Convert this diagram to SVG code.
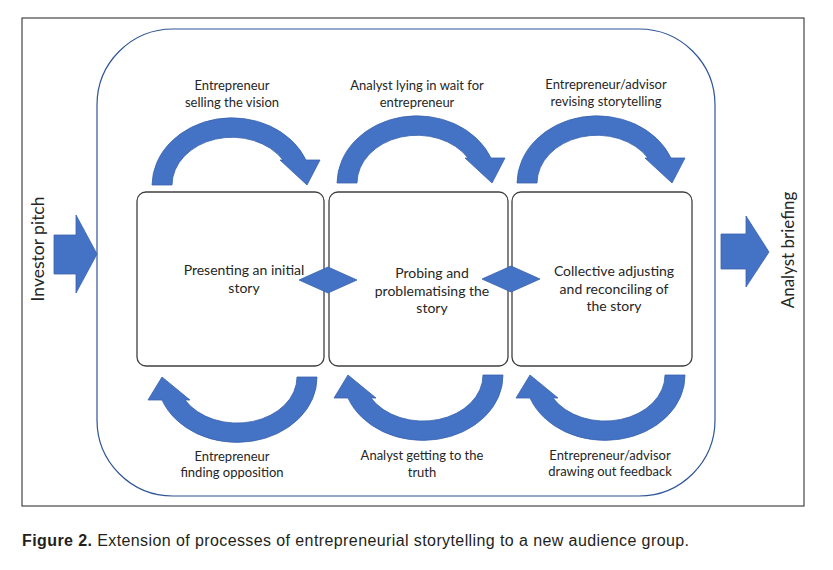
<svg xmlns="http://www.w3.org/2000/svg" width="833" height="570" viewBox="0 0 833 570">
  <style>
    .frame { fill: #ffffff; stroke: #231f20; stroke-width: 1; }
    .phase { fill: none; stroke: #2f5597; stroke-width: 1.2; }
    .box { fill: #ffffff; stroke: #404040; stroke-width: 1.3; }
    .shape { fill: #4472c4; stroke: #3a63ad; stroke-width: 0.8; stroke-linejoin: miter; }
    .lbl { font-family: Lato, "Liberation Sans", sans-serif; font-size: 13px; fill: #262626; text-anchor: middle; }
    .stage { font-size: 14px; }
    .side { font-family: Lato, "Liberation Sans", sans-serif; font-size: 17.5px; fill: #262626; text-anchor: middle; }
    .cap { font-family: "Liberation Sans", sans-serif; font-size: 16px; fill: #231f20; }
  </style>
  <defs>
    <!-- arc arrow curving over the top, pointing down to the right -->
    <path id="arcTop" d="M 0,0 A 80,68 0 0 1 154,-25 L 168,-25 L 155,0 L 128,-25 L 131,-25 A 60,48 0 0 0 20,0 Z"/>
    <!-- arc arrow curving underneath, pointing up to the left -->
    <path id="arcBottom" d="M 0,0 A 80,65 0 0 1 -155,23 L -169,23 L -155,0 L -127,23 L -132,23 A 60,46 0 0 0 -20,0 Z"/>
    <!-- double-headed horizontal arrow between neighbouring stages -->
    <path id="dbl" d="M -29,0 L 0,-13 L 29,0 L 0,13 Z"/>
  </defs>

  <rect class="frame" x="22" y="18" width="782" height="488"/>
  <rect class="phase" x="97" y="29" width="618" height="467" rx="76" ry="76"/>

  <g id="investor-pitch">
    <path class="shape" d="M 54,235 L 76,235 L 76,215 L 97,254 L 76,293 L 76,274 L 54,274 Z"/>
    <text class="side" transform="translate(44,249) rotate(-90)">Investor pitch</text>
  </g>

  <g id="analyst-briefing">
    <path class="shape" d="M 721,234 L 746,234 L 746,216 L 769,252 L 746,287 L 746,269 L 721,269 Z"/>
    <text class="side" style="font-size:17px" transform="translate(794,250) rotate(-90)">Analyst briefing</text>
  </g>

  <g id="stage-presenting">
    <rect class="box" x="137" y="192" width="187" height="174" rx="9" ry="9"/>
    <text class="lbl stage" x="244" y="275">Presenting an initial</text>
    <text class="lbl stage" x="244" y="293">story</text>
  </g>

  <g id="stage-probing">
    <rect class="box" x="329" y="192" width="179" height="174" rx="9" ry="9"/>
    <text class="lbl stage" x="432" y="278">Probing and</text>
    <text class="lbl stage" x="432" y="296">problematising the</text>
    <text class="lbl stage" x="432" y="313">story</text>
  </g>

  <g id="stage-collective">
    <rect class="box" x="512" y="192" width="180" height="174" rx="9" ry="9"/>
    <text class="lbl stage" x="614" y="276">Collective adjusting</text>
    <text class="lbl stage" x="614" y="294">and reconciling of</text>
    <text class="lbl stage" x="614" y="311">the story</text>
  </g>

  <g id="connectors">
    <use href="#dbl" class="shape" x="328" y="280"/>
    <use href="#dbl" class="shape" x="511" y="279"/>

    <use href="#arcTop" class="shape" x="152" y="185"/>
    <use href="#arcTop" class="shape" x="337" y="183"/>
    <use href="#arcTop" class="shape" x="517" y="183"/>

    <use href="#arcBottom" class="shape" x="317" y="377"/>
    <use href="#arcBottom" class="shape" x="503" y="375"/>
    <use href="#arcBottom" class="shape" x="685" y="375"/>

    <text class="lbl" x="232" y="90">Entrepreneur</text>
    <text class="lbl" x="232" y="107">selling the vision</text>
    <text class="lbl" x="417" y="90">Analyst lying in wait for</text>
    <text class="lbl" x="417" y="107">entrepreneur</text>
    <text class="lbl" x="606" y="89">Entrepreneur/advisor</text>
    <text class="lbl" x="606" y="106">revising storytelling</text>

    <text class="lbl" x="232" y="461">Entrepreneur</text>
    <text class="lbl" x="232" y="477">finding opposition</text>
    <text class="lbl" x="422" y="460">Analyst getting to the</text>
    <text class="lbl" x="422" y="477">truth</text>
    <text class="lbl" x="610" y="460">Entrepreneur/advisor</text>
    <text class="lbl" x="610" y="476">drawing out feedback</text>
  </g>

  <text class="cap" x="22" y="546" textLength="667" lengthAdjust="spacing"><tspan font-weight="bold">Figure 2.</tspan>  Extension of processes of entrepreneurial storytelling to a new audience group.</text>
</svg>
